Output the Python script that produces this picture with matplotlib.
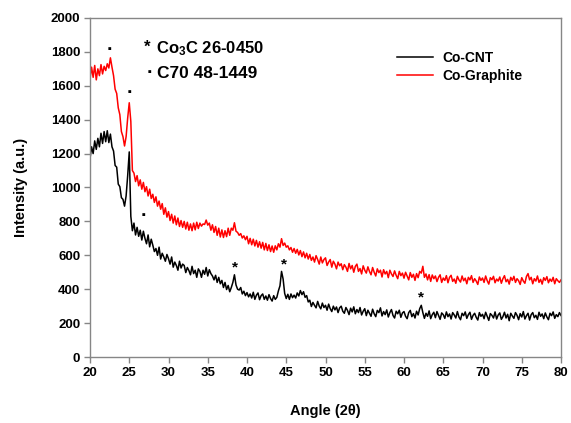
import numpy as np
import matplotlib
matplotlib.use("Agg")
import matplotlib.pyplot as plt

plt.rcParams['font.family'] = ['Liberation Sans', 'DejaVu Sans']
plt.rcParams['font.weight'] = 'bold'
plt.rcParams['mathtext.fontset'] = 'custom'
plt.rcParams['mathtext.rm'] = 'Liberation Sans:bold'
plt.rcParams['mathtext.it'] = 'Liberation Sans:bold'
plt.rcParams['mathtext.bf'] = 'Liberation Sans:bold'

# 2-theta grid (20 to 80 deg, 0.2 deg step)
angle = np.round(np.arange(20.0, 80.0001, 0.2), 1)

co_cnt = [
    1170, 1240, 1200, 1275, 1225, 1290, 1240, 1320, 1260, 1330,
    1270, 1335, 1265, 1315, 1240, 1215, 1130, 1120, 1020, 1005,
    940, 930, 890, 950, 1070, 1210, 830, 745, 790, 720,
    765, 712, 748, 690, 742, 700, 668, 720, 650, 695,
    660, 622, 640, 600, 648, 578, 612, 590, 565, 605,
    580, 548, 590, 530, 560, 540, 512, 565, 525, 548,
    540, 498, 528, 510, 485, 535, 492, 512, 470, 520,
    505, 470, 512, 488, 528, 478, 515, 492, 478, 455,
    482, 440, 470, 432, 452, 410, 440, 398, 422, 385,
    410, 440, 485, 425, 400, 395, 410, 372, 388, 362,
    380, 355, 372, 348, 382, 340, 365, 378, 338, 362,
    372, 340, 360, 335, 368, 345, 330, 362, 340, 352,
    390, 420, 505, 460, 375, 345, 370, 340, 372, 350,
    365, 348, 378, 360, 392, 368, 385, 352, 362, 325,
    335, 298, 322, 305, 290, 328, 300, 284, 318, 292,
    305, 276, 312, 285, 268, 300, 278, 295, 262, 290,
    300, 270, 258, 292, 275, 250, 288, 266, 296, 255,
    280, 262, 292, 248, 270, 285, 244, 276, 258, 240,
    282, 255, 238, 275, 262, 290, 242, 268, 250, 278,
    236, 262, 280, 245, 230, 270, 255, 276, 234, 260,
    268, 240, 226, 262, 275, 238, 256, 230, 270, 248,
    285, 305, 262, 228, 258, 240, 272, 226, 250, 264,
    232, 268, 245, 222, 260, 250, 228, 266, 238, 254,
    224, 262, 248, 230, 268, 236, 220, 258, 244, 266,
    228, 250, 264, 222, 246, 258, 234, 218, 262, 240,
    252, 226, 264, 240, 216, 256, 246, 230, 266, 224,
    248, 260, 222, 238, 264, 230, 252, 214, 258, 242,
    228, 262, 246, 220, 256, 236, 268, 224, 244, 258,
    218, 250, 262, 232, 246, 222, 264, 240, 254, 226,
    260, 236, 220, 258, 244, 266, 228, 250, 238, 262,
    245,
]

co_graphite = [
    1640, 1710, 1650, 1720, 1635, 1700, 1660, 1725, 1670, 1715,
    1690, 1730, 1705, 1765, 1710, 1660, 1580, 1555, 1470, 1430,
    1330, 1300, 1245, 1300, 1410, 1500, 1390, 1100, 1085, 1035,
    1070, 1010, 1045, 990, 1030, 975, 1005, 950, 990, 935,
    960, 912, 945, 890, 920, 872, 905, 842, 880, 825,
    858, 805, 842, 790, 832, 780, 820, 770, 805, 765,
    800, 755, 795, 748, 785, 745, 790, 750, 795, 758,
    790, 772, 785, 782, 808, 778, 790, 748, 780, 735,
    770, 718, 760, 708, 750, 705, 745, 710, 760, 718,
    760, 748, 792, 742, 735, 718, 728, 702, 715, 692,
    712, 668, 700, 662, 695, 655, 688, 648, 680, 642,
    676, 632, 670, 628, 662, 622, 655, 618, 656, 632,
    668, 648, 698, 658, 672, 648, 656, 632, 646, 618,
    640, 612, 635, 602, 628, 592, 620, 585, 612, 578,
    605, 570, 590, 560, 598, 575, 548, 590, 555, 575,
    585, 540, 560, 575, 530, 565, 548, 520, 560, 538,
    550, 515, 545, 530, 505, 552, 520, 540, 500, 535,
    548, 505, 522, 490, 538, 512, 495, 532, 505, 485,
    528, 500, 478, 520, 498, 512, 472, 515, 490, 505,
    468, 512, 490, 475, 508, 482, 462, 505, 480, 495,
    465, 500, 478, 455, 498, 470, 488, 452, 492, 468,
    505, 495, 535, 470, 490, 455, 486, 446, 484, 462,
    478, 445, 470, 485, 440, 466, 452, 480, 438, 470,
    482, 446, 460, 435, 476, 455, 442, 478, 450, 465,
    432, 470, 455, 480, 440, 462, 448, 428, 472, 452,
    466, 440, 478, 450, 430, 468, 456, 476, 438, 460,
    448, 472, 435, 462, 480, 444, 458, 430, 470, 452,
    476, 440, 462, 450, 428, 468, 448, 435, 475, 492,
    455, 470, 432, 462, 448, 478, 440, 458, 430, 468,
    452, 474, 438, 460, 446, 470, 432, 462, 450, 440,
    455,
]

series_names = ["Co-CNT", "Co-Graphite"]
x_ticks = list(range(20, 81, 5))
y_ticks = list(range(0, 2001, 200))

# peak markers
co3c_peaks = [(38.5, 530), (44.7, 545), (62.2, 350)]
c70_peaks = [(22.6, 1810), (25.1, 1555), (26.9, 830)]

fig = plt.figure(figsize=(5.71, 4.23), dpi=100)
ax = fig.add_axes([90/571, 1-357/423, 471/571, 339/423])

ax.plot(angle, co_cnt, color='black', lw=1.1, label=series_names[0])
ax.plot(angle, co_graphite, color='#ff0000', lw=1.1, label=series_names[1])

ax.set_xlim(20, 80)
ax.set_ylim(0, 2000)
ax.set_xticks(x_ticks)
ax.set_yticks(y_ticks)
ax.tick_params(axis='both', direction='out', length=4, width=1, color='#868686',
               labelsize=9.5, pad=3)
for lab in ax.get_xticklabels() + ax.get_yticklabels():
    lab.set_fontweight('bold')
for sp in ax.spines.values():
    sp.set_color('#868686')
    sp.set_linewidth(1.0)

ax.set_xlabel('Angle (2θ)', fontsize=10.5, fontweight='bold', labelpad=18)
ax.set_ylabel('Intensity (a.u.)', fontsize=10.5, fontweight='bold', labelpad=16)

for (px, py) in co3c_peaks:
    ax.text(px, py, '*', ha='center', va='center', fontsize=11, fontweight='bold')
for (px, py) in c70_peaks:
    ax.text(px, py, '·', ha='center', va='center', fontsize=14, fontweight='bold')

ax.text(27.3, 1830, '*', ha='center', va='center', fontsize=12, fontweight='bold')
ax.text(28.4, 1820, 'Co$_3$C 26-0450', ha='left', va='center', fontsize=12, fontweight='bold')
ax.text(27.6, 1675, '·', ha='center', va='center', fontsize=14, fontweight='bold')
ax.text(28.5, 1670, 'C70 48-1449', ha='left', va='center', fontsize=12.5, fontweight='bold')

leg = ax.legend(loc='upper left', bbox_to_anchor=(0.625, 0.94), frameon=False,
                handlelength=2.6, handletextpad=0.7, labelspacing=0.3,
                prop={'weight': 'bold', 'size': 10})

fig.savefig('out.png', dpi=100)
